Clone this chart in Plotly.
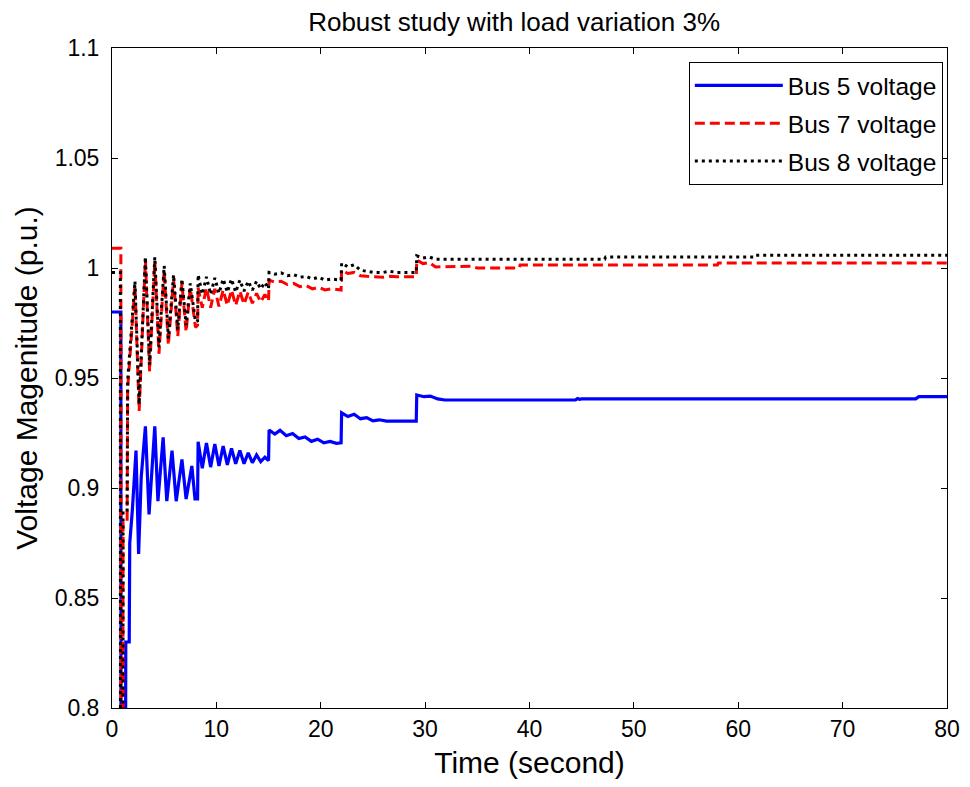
import plotly.graph_objects as go

# ---- data ----
t_bus5 = [0, 0.85, 0.86, 1.3, 1.32, 1.65, 1.7, 1.95, 2.3, 2.55, 2.8, 3.2, 3.55, 4.1, 4.4, 4.9, 5.25,
          5.75, 6.15, 6.7, 7.1, 7.65, 7.95, 8.2, 8.25, 8.65, 9.05, 9.45, 9.85, 10.25, 10.65, 11.05,
          11.45, 11.85, 12.25, 12.65, 13.05, 13.45, 13.85, 14.25, 14.65, 15.0, 15.05, 15.6, 16.1,
          16.7, 17.3, 17.9, 18.5, 19.1, 19.7, 20.3, 20.9, 21.5, 21.95, 22.0, 22.6, 23.2, 23.8, 24.4,
          25.0, 25.6, 26.3, 29.15, 29.2, 29.9, 30.5, 31.2, 31.9, 44.4, 44.6, 44.8, 45.0, 77.0, 77.3, 80]
v_bus5 = [0.98, 0.98, 0.78, 0.78, 0.83, 0.83, 0.875, 0.89, 0.917, 0.87, 0.905, 0.928, 0.888, 0.928,
          0.894, 0.923, 0.894, 0.917, 0.894, 0.913, 0.895, 0.91, 0.895, 0.895, 0.921, 0.909, 0.9205,
          0.9095, 0.920, 0.910, 0.919, 0.9105, 0.918, 0.911, 0.917, 0.911, 0.916, 0.9115, 0.915,
          0.912, 0.914, 0.9125, 0.9264, 0.9245, 0.9262, 0.9238, 0.9248, 0.9225, 0.9232, 0.9212,
          0.9222, 0.9205, 0.9212, 0.9203, 0.9205, 0.9342, 0.9325, 0.9335, 0.9315, 0.932, 0.9305,
          0.931, 0.9304, 0.9304, 0.9423, 0.9415, 0.9418, 0.9405, 0.940, 0.940, 0.9407, 0.9403,
          0.9405, 0.9405, 0.9415, 0.9415]

t_bus7 = [0, 0.85, 0.86, 1.05, 1.06, 1.45, 1.5, 2.2, 2.6, 3.2, 3.6, 4.1, 4.5, 5.0, 5.4, 5.9, 6.3, 6.7,
          7.1, 7.5, 8.0, 8.2, 8.25, 8.65, 9.05, 9.45, 9.85, 10.25, 10.65, 11.05, 11.45, 11.85, 12.25,
          12.65, 13.05, 13.45, 13.85, 14.25, 14.65, 15.0, 15.05, 15.6, 16.2, 16.8, 17.4, 18.0, 18.6,
          19.2, 19.8, 20.4, 21.0, 21.6, 21.95, 22.0, 22.6, 23.2, 23.8, 24.4, 25.0, 26.0, 26.6, 27.3,
          29.15, 29.2, 29.8, 30.4, 31.0, 34.5, 35.0, 39.0, 39.1, 58.0, 58.1, 80]
v_bus7 = [1.009, 1.009, 0.78, 0.78, 0.885, 0.885, 0.945, 0.992, 0.935, 1.004, 0.953, 1.003, 0.961,
          0.999, 0.965, 0.995, 0.969, 0.993, 0.971, 0.991, 0.973, 0.974, 0.991, 0.982, 0.991, 0.982,
          0.9905, 0.9825, 0.990, 0.983, 0.990, 0.983, 0.9895, 0.9835, 0.989, 0.984, 0.9885, 0.9845,
          0.988, 0.985, 0.9945, 0.9935, 0.994, 0.9925, 0.993, 0.9915, 0.992, 0.9905, 0.9912, 0.990,
          0.9905, 0.990, 0.990, 0.999, 0.9975, 0.998, 0.9965, 0.9962, 0.996, 0.9958, 0.9962, 0.996,
          0.996, 1.0036, 1.002, 1.0025, 1.0005, 1.0008, 1.0, 1.0, 1.0014, 1.0014, 1.0023, 1.0023]

t_bus8 = [0, 0.8, 0.81, 1.05, 1.06, 1.45, 1.5, 2.2, 2.6, 3.2, 3.6, 4.1, 4.5, 5.0, 5.4, 5.9, 6.3, 6.7,
          7.1, 7.5, 8.0, 8.2, 8.25, 8.65, 9.05, 9.45, 9.85, 10.25, 10.65, 11.05, 11.45, 11.85, 12.25,
          12.65, 13.05, 13.45, 13.85, 14.25, 14.65, 15.0, 15.05, 15.6, 16.2, 16.8, 17.4, 18.0, 18.6,
          19.2, 19.8, 20.4, 21.0, 21.6, 21.95, 22.0, 22.6, 23.2, 23.8, 24.4, 25.0, 26.0, 26.6, 27.3,
          29.15, 29.2, 29.8, 30.4, 31.0, 47.2, 47.3, 61.6, 61.7, 80]
v_bus8 = [0.998, 0.998, 0.78, 0.78, 0.89, 0.89, 0.949, 0.994, 0.938, 1.005, 0.956, 1.005, 0.964,
          1.001, 0.968, 0.997, 0.972, 0.995, 0.974, 0.993, 0.9755, 0.976, 0.997, 0.988, 0.996,
          0.988, 0.9955, 0.9885, 0.995, 0.989, 0.995, 0.989, 0.9945, 0.9895, 0.994, 0.990, 0.994,
          0.9905, 0.9935, 0.9905, 0.998, 0.9972, 0.9978, 0.9965, 0.997, 0.9958, 0.9962, 0.995,
          0.9958, 0.9945, 0.995, 0.9945, 0.9945, 1.0023, 1.0005, 1.0015, 0.999, 0.9985, 0.998,
          0.998, 0.9985, 0.998, 0.998, 1.0055, 1.0045, 1.005, 1.004, 1.004, 1.005, 1.005, 1.0058,
          1.0058]

x_ticks = [0, 10, 20, 30, 40, 50, 60, 70, 80]
y_ticks = [0.8, 0.85, 0.9, 0.95, 1.0, 1.05, 1.1]
y_tick_text = ["0.8", "0.85", "0.9", "0.95", "1", "1.05", "1.1"]

FONT = "Liberation Sans, Arial, sans-serif"

fig = go.Figure()
fig.add_trace(go.Scatter(x=t_bus5, y=v_bus5, mode="lines", name="Bus 5 voltage", legendgroup="a",
                         line=dict(color="#0000ff", width=3.2)))
fig.add_trace(go.Scatter(x=t_bus7, y=v_bus7, mode="lines", name="Bus 7 voltage", legendgroup="b",
                         line=dict(color="#ff0000", width=3, dash="10px,5px")))
fig.add_trace(go.Scatter(x=t_bus8, y=v_bus8, mode="lines", name="Bus 8 voltage", legendgroup="c",
                         line=dict(color="#000000", width=3, dash="3px,4px")))

axis_common = dict(showgrid=False, zeroline=False, showline=True, linecolor="black", linewidth=1,
                   mirror="ticks", ticks="inside", ticklen=6, tickcolor="black", automargin=False,
                   tickfont=dict(family=FONT, size=23, color="black"))

fig.update_layout(
    width=954, height=771,
    paper_bgcolor="white", plot_bgcolor="white",
    margin=dict(l=104, r=15, t=40, b=71),
    title=dict(text="Robust study with load variation 3%", x=0.5305, xanchor="center",
               y=0.994, yanchor="top", pad=dict(t=0, b=0, l=0, r=0),
               font=dict(family=FONT, size=26, color="black")),
    xaxis=dict(range=[0, 80], tickvals=x_ticks,
               title=dict(text="Time (second)", font=dict(family=FONT, size=30, color="black"),
                          standoff=15),
               **axis_common),
    yaxis=dict(range=[0.8, 1.1], tickvals=y_ticks, ticktext=y_tick_text, ticklabelstandoff=7,
               title=dict(text="Voltage Magenitude (p.u.)",
                          font=dict(family=FONT, size=30, color="black"), standoff=8),
               **axis_common),
    legend=dict(x=0.995, y=0.979, xanchor="right", yanchor="top", bgcolor="white",
                bordercolor="black", borderwidth=1, itemwidth=88, traceorder="grouped",
                font=dict(family=FONT, size=24.5, color="black"), tracegroupgap=3),
    showlegend=True,
)

fig.write_html("out.html")
